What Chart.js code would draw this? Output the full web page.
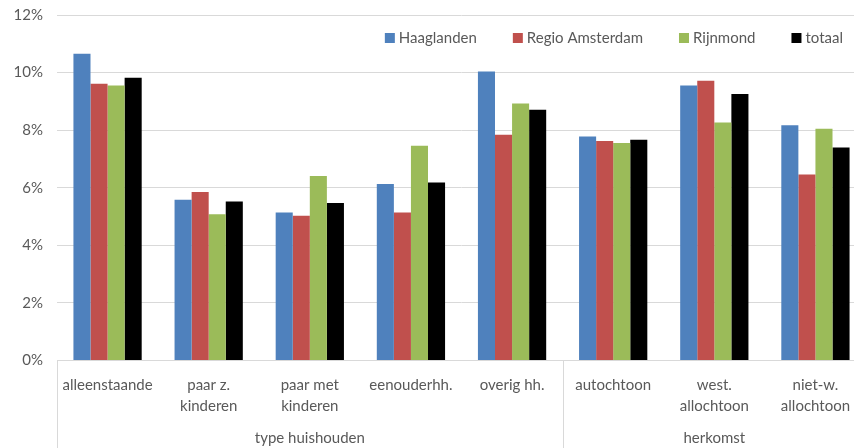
<!DOCTYPE html>
<html>
<head>
<meta charset="utf-8">
<script src="https://cdn.jsdelivr.net/npm/chart.js@4/dist/chart.umd.min.js"></script>
<style>
  html, body { margin: 0; padding: 0; background: #fff; overflow: hidden; }
  #wrap { width: 868px; height: 448px; position: relative; }
</style>
</head>
<body>
<div id="wrap"><canvas id="myChart"></canvas></div>
<script>
'use strict';

// categories (multi-line labels) and groups
let categories = [
  'alleenstaande', ['paar z.', 'kinderen'], ['paar met', 'kinderen'], 'eenouderhh.',
  'overig hh.', 'autochtoon', ['west.', 'allochtoon'], ['niet-w.', 'allochtoon']
];
let groups = ['type huishouden', 'herkomst'];
let groupSizes = [5, 3];

let seriesNames = ['Haaglanden', 'Regio Amsterdam', 'Rijnmond', 'totaal'];
let haaglanden = [10.65, 5.58, 5.14, 6.13, 10.04, 7.78, 9.55, 8.17];
let regioAmsterdam = [9.61, 5.85, 5.03, 5.14, 7.84, 7.62, 9.72, 6.46];
let rijnmond = [9.55, 5.08, 6.41, 7.46, 8.93, 7.55, 8.27, 8.05];
let totaal = [9.82, 5.52, 5.47, 6.18, 8.71, 7.67, 9.26, 7.40];
let yTicks = [0, 2, 4, 6, 8, 10, 12];

let colors = ['#4F81BD', '#C0504D', '#9BBB59', '#000000'];
let allValues = [haaglanden, regioAmsterdam, rijnmond, totaal];

let FONT = 'Lato, "Open Sans", sans-serif';
let TEXT = '#595959';

let datasets = [];
for (let i = 0; i < seriesNames.length; i++) {
  datasets.push({
    label: seriesNames[i],
    data: allValues[i],
    backgroundColor: colors[i],
    borderWidth: 0,
    categoryPercentage: 0.675,
    barPercentage: 1.0
  });
}

// legend inside the plot, right aligned on one row
const innerLegend = {
  id: 'innerLegend',
  afterDraw(chart) {
    let ctx = chart.ctx;
    ctx.save();
    ctx.font = '15px ' + FONT;
    ctx.textBaseline = 'middle';
    let y = 38;
    let x = 843;
    let items = chart.data.datasets.slice().reverse();
    for (let d of items) {
      let w = ctx.measureText(d.label).width;
      let tx = x - w;
      ctx.fillStyle = TEXT;
      ctx.textAlign = 'left';
      ctx.fillText(d.label, tx, y);
      ctx.fillStyle = d.backgroundColor;
      ctx.fillRect(tx - 14, y - 5, 10, 10);
      x = tx - 14 - 36;
    }
    ctx.restore();
  }
};

// group labels + separators under the x axis
const groupAxis = {
  id: 'groupAxis',
  afterDraw(chart) {
    let ctx = chart.ctx;
    let x = chart.scales.x;
    let area = chart.chartArea;
    let bottom = chart.height;
    ctx.save();
    ctx.strokeStyle = '#d9d9d9';
    ctx.lineWidth = 1;
    let start = 0;
    let edges = [area.left];
    for (let g = 0; g < groups.length; g++) {
      let end = start + groupSizes[g] - 1;
      let left = start === 0 ? area.left : (x.getPixelForValue(start - 1) + x.getPixelForValue(start)) / 2;
      let right = g === groups.length - 1 ? area.right : (x.getPixelForValue(end) + x.getPixelForValue(end + 1)) / 2;
      if (g < groups.length - 1) edges.push(right);
      ctx.fillStyle = TEXT;
      ctx.font = '15px ' + FONT;
      ctx.textAlign = 'center';
      ctx.textBaseline = 'middle';
      ctx.fillText(groups[g], (left + right) / 2, 438);
      start = end + 1;
    }
    for (let e of edges) {
      let px = Math.round(e) + 0.5;
      ctx.beginPath();
      ctx.moveTo(px, area.bottom);
      ctx.lineTo(px, bottom);
      ctx.stroke();
    }
    ctx.restore();
  }
};

const config = {
  type: 'bar',
  data: { labels: categories, datasets: datasets },
  options: {
    responsive: true,
    maintainAspectRatio: false,
    animation: false,
    layout: { padding: { top: 15, right: 2, left: 0, bottom: 0 } },
    plugins: {
      tooltip: { enabled: false },
      legend: { display: false }
    },
    scales: {
      x: {
        grid: { display: false },
        border: { display: true, color: '#d9d9d9' },
        ticks: {
          color: TEXT,
          font: { family: FONT, size: 15, lineHeight: 1.4 },
          maxRotation: 0,
          autoSkip: false,
          padding: 6
        },
        afterFit(s) { s.height = 87.5; }
      },
      y: {
        min: 0,
        max: 12,
        border: { display: false },
        grid: { color: '#d9d9d9', drawTicks: false },
        afterBuildTicks(s) { s.ticks = yTicks.map(v => ({ value: v })); },
        ticks: {
          color: TEXT,
          font: { family: FONT, size: 15 },
          padding: 14,
          callback: v => v + '%'
        },
        afterFit(s) { s.width = 57; s.paddingTop = 0; s.paddingBottom = 0; }
      }
    }
  },
  plugins: [groupAxis, innerLegend]
};

const myChart = new Chart(document.getElementById('myChart'), config);
</script>
</body>
</html>
